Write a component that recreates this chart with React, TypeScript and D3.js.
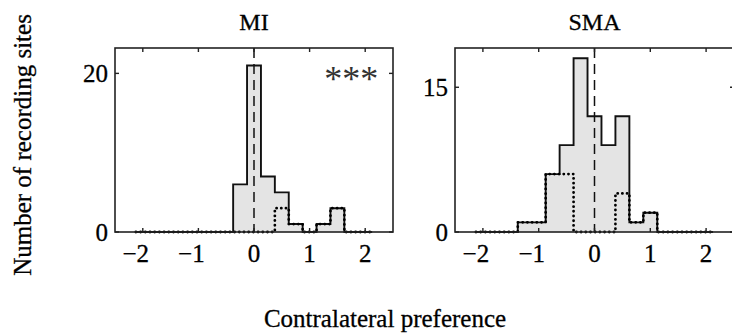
import React from "react";
import * as d3 from "d3";

const binCenters = [-2, -1.75, -1.5, -1.25, -1, -0.75, -0.5, -0.25, 0, 0.25, 0.5, 0.75, 1, 1.25, 1.5, 1.75, 2];
const miAll = [0, 0, 0, 0, 0, 0, 0, 6, 21, 7, 5, 1, 0, 1, 3, 0, 0];
const miSig = [0, 0, 0, 0, 0, 0, 0, 0, 0, 0, 3, 1, 0, 1, 3, 0, 0];
const smaAll = [0, 0, 0, 1, 1, 6, 9, 18, 12, 9, 12, 1, 2, 0, 0, 0, 0];
const smaSig = [0, 0, 0, 1, 1, 6, 6, 0, 0, 0, 4, 1, 2, 0, 0, 0, 0];
const xTicks = [-2, -1, 0, 1, 2];
const miYTicks = [0, 20];
const smaYTicks = [0, 15];
const binWidth = 0.25;

const FONT = "'Liberation Serif', 'Times New Roman', serif";

type PanelProps = {
  title: string;
  left: number;
  right: number;
  all: number[];
  sig: number[];
  yMax: number;
  yTicks: number[];
  stars?: string;
};

function stairs(values: number[], x: d3.ScaleLinear<number, number>, y: d3.ScaleLinear<number, number>) {
  const pts: [number, number][] = [];
  const e0 = binCenters[0] - binWidth / 2;
  pts.push([x(e0), y(0)]);
  values.forEach((v, i) => {
    const a = binCenters[i] - binWidth / 2;
    const b = binCenters[i] + binWidth / 2;
    pts.push([x(a), y(v)]);
    pts.push([x(b), y(v)]);
  });
  const eN = binCenters[binCenters.length - 1] + binWidth / 2;
  pts.push([x(eN), y(0)]);
  return d3.line()(pts) as string;
}

function Panel({ title, left, right, all, sig, yMax, yTicks, stars }: PanelProps) {
  const top = 48;
  const bottom = 232;
  const x = d3.scaleLinear().domain([-2.5, 2.5]).range([left, right]);
  const y = d3.scaleLinear().domain([0, yMax]).range([bottom, top]);
  const tl = 4;
  const allPath = stairs(all, x, y);
  const sigPath = stairs(sig, x, y);
  return (
    <g>
      <text x={x(0)} y={30} textAnchor="middle" fontFamily={FONT} fontSize={24} fill="#000" stroke="#000" strokeWidth={0.3}>
        {title}
      </text>
      <path d={allPath + "Z"} fill="#e4e4e4" stroke="none" />
      <line x1={x(0)} x2={x(0)} y1={top} y2={bottom} stroke="#111" strokeWidth={1.5} strokeDasharray="10,6" />
      <path d={allPath} fill="none" stroke="#111" strokeWidth={1.9} />
      <path d={sigPath} fill="none" stroke="#000" strokeWidth={2.8} strokeDasharray="0.1,4.6" strokeLinecap="round" />
      <rect x={left} y={top} width={right - left} height={bottom - top} fill="none" stroke="#222" strokeWidth={1.6} />
      {xTicks.map((t) => (
        <g key={"x" + t}>
          <line x1={x(t)} x2={x(t)} y1={bottom} y2={bottom - tl} stroke="#222" strokeWidth={1.4} />
          <line x1={x(t)} x2={x(t)} y1={top} y2={top + tl} stroke="#222" strokeWidth={1.4} />
          <text
            x={x(t)}
            dx={t < 0 ? -7 : 0}
            y={262}
            textAnchor="middle"
            fontFamily={FONT}
            fontSize={25}
            fill="#000"
            stroke="#000"
            strokeWidth={0.3}
          >
            {t < 0 ? "\u2212" + Math.abs(t) : String(t)}
          </text>
        </g>
      ))}
      {yTicks.map((t) => (
        <g key={"y" + t}>
          <line x1={left} x2={left + tl} y1={y(t)} y2={y(t)} stroke="#222" strokeWidth={1.4} />
          <line x1={right} x2={right - tl} y1={y(t)} y2={y(t)} stroke="#222" strokeWidth={1.4} />
          <text
            x={left - 7}
            y={y(t)}
            dy="0.35em"
            textAnchor="end"
            fontFamily={FONT}
            fontSize={25}
            fill="#000"
            stroke="#000"
            strokeWidth={0.3}
          >
            {t}
          </text>
        </g>
      ))}
      {stars && (
        <text x={x(1.75)} y={91} textAnchor="middle" fontFamily={FONT} fontSize={36} fill="#333">
          {stars}
        </text>
      )}
    </g>
  );
}

export default function App() {
  return (
    <svg width={732} height={335} style={{ position: "absolute", left: 0, top: 0, background: "#fff" }}>
      <rect x={0} y={0} width={732} height={335} fill="#fff" />
      <Panel title="MI" left={115} right={393} all={miAll} sig={miSig} yMax={23.2} yTicks={miYTicks} stars="***" />
      <Panel title="SMA" left={455} right={734} all={smaAll} sig={smaSig} yMax={19.07} yTicks={smaYTicks} />
      <text
        transform="translate(31,145) rotate(-90)"
        textAnchor="middle"
        fontFamily={FONT}
        fontSize={25}
        fill="#000"
        stroke="#000"
        strokeWidth={0.3}
      >
        Number of recording sites
      </text>
      <text x={385} y={327} textAnchor="middle" fontFamily={FONT} fontSize={25} fill="#000" stroke="#000" strokeWidth={0.3}>
        Contralateral preference
      </text>
    </svg>
  );
}
